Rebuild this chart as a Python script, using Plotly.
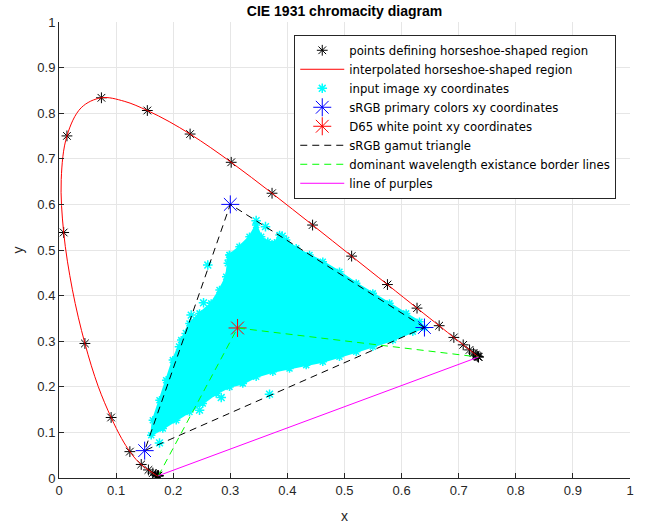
import plotly.graph_objects as go

# CIE 1931 spectral locus, 380-700 nm every 5 nm
locus_x = [0.1741, 0.1740, 0.1738, 0.1736, 0.1733, 0.1730, 0.1726, 0.1721, 0.1714, 0.1703,
           0.1689, 0.1669, 0.1644, 0.1611, 0.1566, 0.1510, 0.1440, 0.1355, 0.1241, 0.1096,
           0.0913, 0.0687, 0.0454, 0.0235, 0.0082, 0.0039, 0.0139, 0.0389, 0.0743, 0.1142,
           0.1547, 0.1929, 0.2296, 0.2658, 0.3016, 0.3373, 0.3731, 0.4087, 0.4441, 0.4788,
           0.5125, 0.5448, 0.5752, 0.6029, 0.6270, 0.6482, 0.6658, 0.6801, 0.6915, 0.7006,
           0.7079, 0.7140, 0.7190, 0.7230, 0.7260, 0.7283, 0.7300, 0.7311, 0.7320, 0.7327,
           0.7334, 0.7340, 0.7344, 0.7346, 0.7347]
locus_y = [0.0050, 0.0050, 0.0049, 0.0049, 0.0048, 0.0048, 0.0048, 0.0048, 0.0051, 0.0058,
           0.0069, 0.0086, 0.0109, 0.0138, 0.0177, 0.0227, 0.0297, 0.0399, 0.0578, 0.0868,
           0.1327, 0.2007, 0.2950, 0.4127, 0.5384, 0.6548, 0.7502, 0.8120, 0.8338, 0.8262,
           0.8059, 0.7816, 0.7543, 0.7243, 0.6923, 0.6589, 0.6245, 0.5896, 0.5547, 0.5202,
           0.4866, 0.4544, 0.4242, 0.3965, 0.3725, 0.3514, 0.3340, 0.3197, 0.3083, 0.2993,
           0.2920, 0.2859, 0.2809, 0.2770, 0.2740, 0.2717, 0.2700, 0.2689, 0.2680, 0.2673,
           0.2666, 0.2660, 0.2656, 0.2654, 0.2653]

# points defining horseshoe (every 10 nm)
pts_x = locus_x[::2]
pts_y = locus_y[::2]

# input image xy cloud: outline of dense region
cloud_x = [0.2986, 0.3160, 0.3336, 0.3453, 0.3541, 0.3657, 0.3774, 0.3862, 0.3979, 0.4154,
           0.4387, 0.4620, 0.4912, 0.5205, 0.5496, 0.5788, 0.6080, 0.6313, 0.6401,
           0.6196, 0.5846, 0.5496, 0.5205, 0.4912, 0.4620, 0.4329, 0.4037, 0.3745, 0.3453,
           0.3219, 0.2986, 0.2753, 0.2518, 0.2285, 0.2053, 0.1818, 0.1615,
           0.1643, 0.1760, 0.1877, 0.1993, 0.2140, 0.2285, 0.2461, 0.2665, 0.2811, 0.2928,
           0.2956, 0.2986]
cloud_y = [0.4890, 0.5070, 0.5290, 0.5549, 0.5290, 0.5180, 0.5147, 0.5330, 0.5220, 0.5037,
           0.4890, 0.4743, 0.4523, 0.4269, 0.4049, 0.3830, 0.3610, 0.3426, 0.3294,
           0.3206, 0.3024, 0.2877, 0.2767, 0.2657, 0.2547, 0.2475, 0.2402, 0.2328, 0.2218,
           0.2073, 0.1998, 0.1853, 0.1634, 0.1449, 0.1267, 0.1085, 0.0938,
           0.1267, 0.1706, 0.2145, 0.2585, 0.3024, 0.3390, 0.3610, 0.3830, 0.4122, 0.4414,
           0.4708, 0.4890]
# scattered individual image points
img_x = [0.3453, 0.3616, 0.3909, 0.2606, 0.2531, 0.2315, 0.2841, 0.3687, 0.2461, 0.1760,
         0.2986, 0.2898, 0.2228, 0.2110]
img_y = [0.5644, 0.5512, 0.5305, 0.4670, 0.3843, 0.3573, 0.1765, 0.1838, 0.1487, 0.0769,
         0.4780, 0.4159, 0.3170, 0.2877]

# sRGB primaries (R, G, B) and D65
srgb_x = [0.64, 0.30, 0.15]
srgb_y = [0.33, 0.60, 0.06]
d65_x = [0.3127]
d65_y = [0.3290]

tri_x = srgb_x + srgb_x[:1]
tri_y = srgb_y + srgb_y[:1]

# line of purples endpoints (380 nm and 700 nm)
purple_x = [locus_x[0], locus_x[-1]]
purple_y = [locus_y[0], locus_y[-1]]

# dominant wavelength border lines
dom_x = [locus_x[0], d65_x[0], locus_x[-1]]
dom_y = [locus_y[0], d65_y[0], locus_y[-1]]

FONT = "Liberation Sans, Arial, sans-serif"
fig = go.Figure()

fig.add_trace(go.Scatter(x=pts_x, y=pts_y, mode="markers", name="points defining horseshoe-shaped region",
                         marker=dict(symbol="asterisk-open", size=9, color="black",
                                     line=dict(color="black", width=1))))
fig.add_trace(go.Scatter(x=locus_x, y=locus_y, mode="lines", name="interpolated horseshoe-shaped region",
                         line=dict(color="#ff0000", width=1, shape="spline", smoothing=1.0)))
fig.add_trace(go.Scatter(x=cloud_x, y=cloud_y, mode="lines+markers", fill="toself", fillcolor="#00ffff",
                         line=dict(color="#00ffff", width=2), showlegend=False, hoverinfo="skip",
                         marker=dict(symbol="asterisk-open", size=7, color="#00ffff",
                                     line=dict(color="#00ffff", width=1.5))))
fig.add_trace(go.Scatter(x=img_x, y=img_y, mode="markers", name="input image xy coordinates",
                         marker=dict(symbol="asterisk-open", size=8, color="#00ffff",
                                     line=dict(color="#00ffff", width=1.5))))
fig.add_trace(go.Scatter(x=srgb_x, y=srgb_y, mode="markers", name="sRGB primary colors xy coordinates",
                         marker=dict(symbol="asterisk-open", size=15, color="#0000ff",
                                     line=dict(color="#0000ff", width=1))))
fig.add_trace(go.Scatter(x=d65_x, y=d65_y, mode="markers", name="D65 white point xy coordinates",
                         marker=dict(symbol="asterisk-open", size=15, color="#ff0000",
                                     line=dict(color="#ff0000", width=1))))
fig.add_trace(go.Scatter(x=tri_x, y=tri_y, mode="lines", name="sRGB gamut triangle",
                         line=dict(color="black", width=1, dash="7px,5px")))
fig.add_trace(go.Scatter(x=dom_x, y=dom_y, mode="lines", name="dominant wavelength existance border lines",
                         line=dict(color="#00ff00", width=1, dash="7px,5px")))
fig.add_trace(go.Scatter(x=purple_x, y=purple_y, mode="lines", name="line of purples",
                         line=dict(color="#ff00ff", width=1)))

axis_common = dict(range=[0, 1], dtick=0.1, tick0=0, showline=True, linecolor="#262626", linewidth=1,
                   ticks="inside", ticklen=5, tickcolor="#262626", showgrid=True, gridcolor="#e6e6e6",
                   gridwidth=1, zeroline=False, mirror=False, automargin=False,
                   tickfont=dict(family=FONT, size=13, color="#262626"))

fig.update_layout(
    width=646, height=527,
    margin=dict(l=59, r=16, t=22, b=49),
    plot_bgcolor="white", paper_bgcolor="white",
    title=dict(text="<b>CIE 1931 chromacity diagram</b>", x=0.5, xref="paper", xanchor="center",
               y=1 - 6 / 527, yref="container", yanchor="top",
               font=dict(family=FONT, size=14, color="black")),
    xaxis=dict(**axis_common, title=dict(text="x", standoff=14, font=dict(family=FONT, size=14, color="#262626"))),
    yaxis=dict(**axis_common, title=dict(text="y", standoff=10, font=dict(family=FONT, size=14, color="#262626"))),
    legend=dict(x=0.412, y=0.972, xanchor="left", yanchor="top", bgcolor="white",
                bordercolor="#262626", borderwidth=1, itemwidth=44,
                font=dict(family="DejaVu Sans, sans-serif", size=11.7, color="black"), tracegroupgap=0),
    showlegend=True,
)

fig.write_html("out.html")
